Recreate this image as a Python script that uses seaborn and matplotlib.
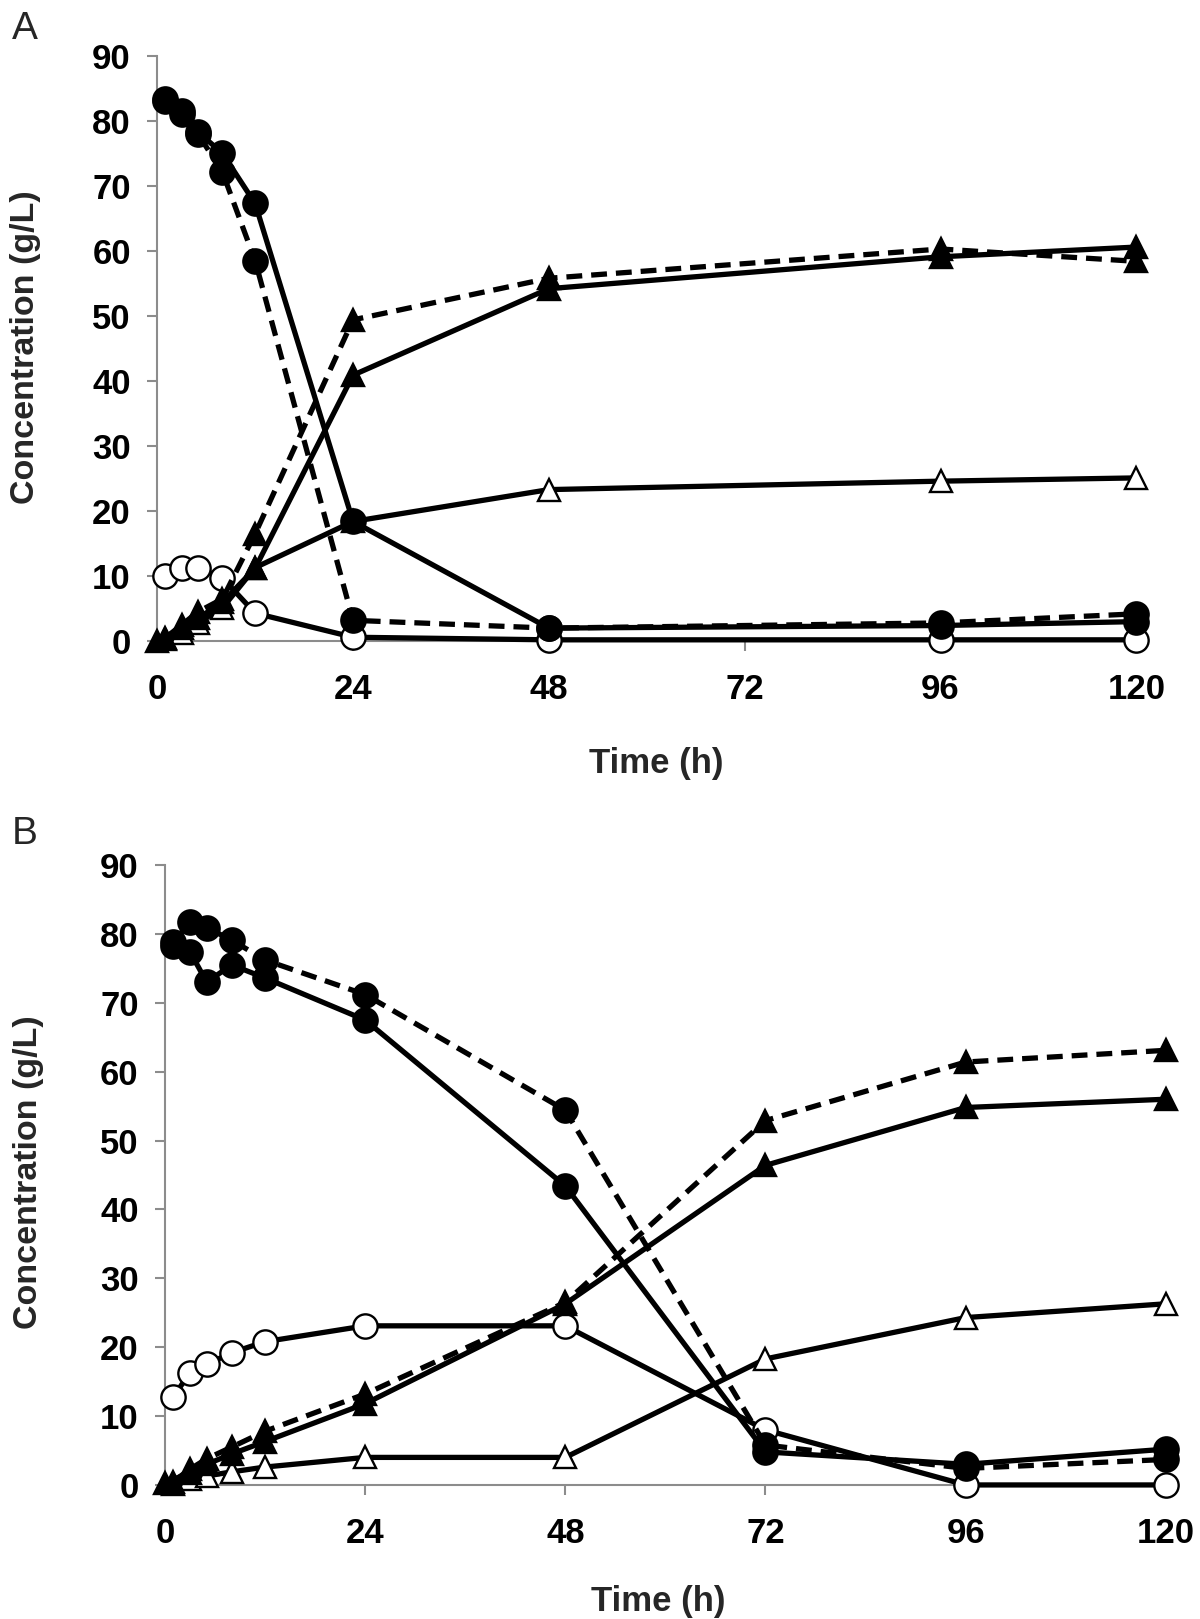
import matplotlib
matplotlib.use('Agg')
import matplotlib.pyplot as plt
import seaborn as sns

sns.set_style('ticks')
plt.rcParams['font.family'] = ['Liberation Sans', 'DejaVu Sans']
plt.rcParams['font.weight'] = 'bold'

# ---- panel A ----
time_a = [1, 3, 5, 8, 12, 24, 48, 96, 120]
time_a_tri = [0, 3, 5, 8, 12, 24, 48, 96, 120]
a_circle_solid = [83.3, 81.5, 78.3, 75.0, 67.3, 18.4, 2.0, 2.4, 3.0]
a_circle_dash = [83.0, 81.0, 78.0, 72.1, 58.5, 3.2, 2.0, 2.8, 4.2]
a_open_circle = [10.0, 11.3, 11.3, 9.7, 4.3, 0.6, 0.2, 0.2, 0.2]
a_tri_solid = [0.0, 2.0, 3.5, 6.0, 11.2, 40.9, 54.2, 59.1, 60.6]
a_tri_dash = [0.5, 2.5, 4.5, 6.5, 16.5, 49.4, 55.8, 60.3, 58.4]
a_open_tri = [0.3, 1.2, 2.8, 5.1, 11.3, 18.4, 23.3, 24.6, 25.1]

# ---- panel B ----
time_b = [1, 3, 5, 8, 12, 24, 48, 72, 96, 120]
time_b_tri = [0, 3, 5, 8, 12, 24, 48, 72, 96, 120]
b_circle_solid = [78.2, 77.4, 73.0, 75.5, 73.6, 67.5, 43.4, 4.8, 3.0, 5.2]
b_circle_dash = [78.8, 81.7, 80.9, 79.1, 76.2, 71.2, 54.4, 5.8, 2.4, 3.7]
b_open_circle = [12.8, 16.3, 17.5, 19.2, 20.8, 23.1, 23.1, 8.0, 0.0, 0.0]
b_tri_solid = [0.3, 1.8, 3.0, 4.5, 6.3, 11.8, 26.3, 46.4, 54.8, 56.0]
b_tri_dash = [0.5, 2.3, 3.8, 5.5, 7.8, 13.2, 26.5, 52.9, 61.4, 63.1]
b_open_tri = [0.2, 0.8, 1.3, 1.9, 2.6, 4.0, 4.0, 18.3, 24.3, 26.3]

x_ticks = [0, 24, 48, 72, 96, 120]
y_ticks = list(range(0, 91, 10))


def draw(ax, t, y, marker, filled=True, dashed=False, z=3):
    ms = 17.5 if marker == 'o' else 16.5
    sns.lineplot(x=t, y=y, ax=ax, color='black', lw=3.8,
                 linestyle=(0, (3.0, 1.7)) if dashed else '-',
                 marker=marker, markersize=ms,
                 markerfacecolor='black' if filled else 'white',
                 markeredgecolor='black', markeredgewidth=1.7,
                 clip_on=False, zorder=z, errorbar=None)


def style_axis(ax, xlab_pos, ylab_pos):
    ax.set_xlim(0, 120)
    ax.set_ylim(0, 90)
    ax.set_xticks(x_ticks)
    ax.set_yticks(y_ticks)
    for s in ['top', 'right']:
        ax.spines[s].set_visible(False)
    for s in ['left', 'bottom']:
        ax.spines[s].set_color('#8c8c8c')
        ax.spines[s].set_linewidth(1.5)
        ax.spines[s].set_zorder(1)
    ax.tick_params(axis='both', colors='#8c8c8c', length=7, width=1.5,
                   labelsize=25, labelcolor='black')
    ax.tick_params(axis='x', pad=16)
    ax.tick_params(axis='y', pad=12)
    ax.set_xlabel('Time (h)', fontsize=25, fontweight='bold')
    ax.set_ylabel('Concentration (g/L)', fontsize=24.5, fontweight='bold')
    ax.xaxis.set_label_coords(*xlab_pos)
    ax.yaxis.set_label_coords(*ylab_pos)


fig = plt.figure(figsize=(12, 16.19), dpi=100)
ax_a = fig.add_axes([0.131, 0.604, 0.816, 0.3615])
ax_b = fig.add_axes([0.1375, 0.0828, 0.834, 0.3829])

draw(ax_a, time_a, a_open_tri, '^', filled=False, z=3)
draw(ax_a, time_a, a_open_circle, 'o', filled=False, z=4)
draw(ax_a, time_a_tri, a_tri_solid, '^', z=5)
draw(ax_a, time_a, a_tri_dash, '^', dashed=True, z=5)
draw(ax_a, time_a, a_circle_solid, 'o', z=6)
draw(ax_a, time_a, a_circle_dash, 'o', dashed=True, z=6)
style_axis(ax_a, (0.51, -0.181), (-0.119, 0.503))

draw(ax_b, time_b, b_open_tri, '^', filled=False, z=3)
draw(ax_b, time_b, b_open_circle, 'o', filled=False, z=4)
draw(ax_b, time_b_tri, b_tri_solid, '^', z=5)
draw(ax_b, time_b, b_tri_dash, '^', dashed=True, z=5)
draw(ax_b, time_b, b_circle_solid, 'o', z=6)
draw(ax_b, time_b, b_circle_dash, 'o', dashed=True, z=6)
style_axis(ax_b, (0.4925, -0.161), (-0.121, 0.505))

fig.text(25 / 1200, 1 - 29 / 1619, 'A', fontsize=28, fontweight='normal',
         ha='center', va='center')
fig.text(25 / 1200, 1 - 834 / 1619, 'B', fontsize=28, fontweight='normal',
         ha='center', va='center')

fig.savefig('out.png', dpi=100)
